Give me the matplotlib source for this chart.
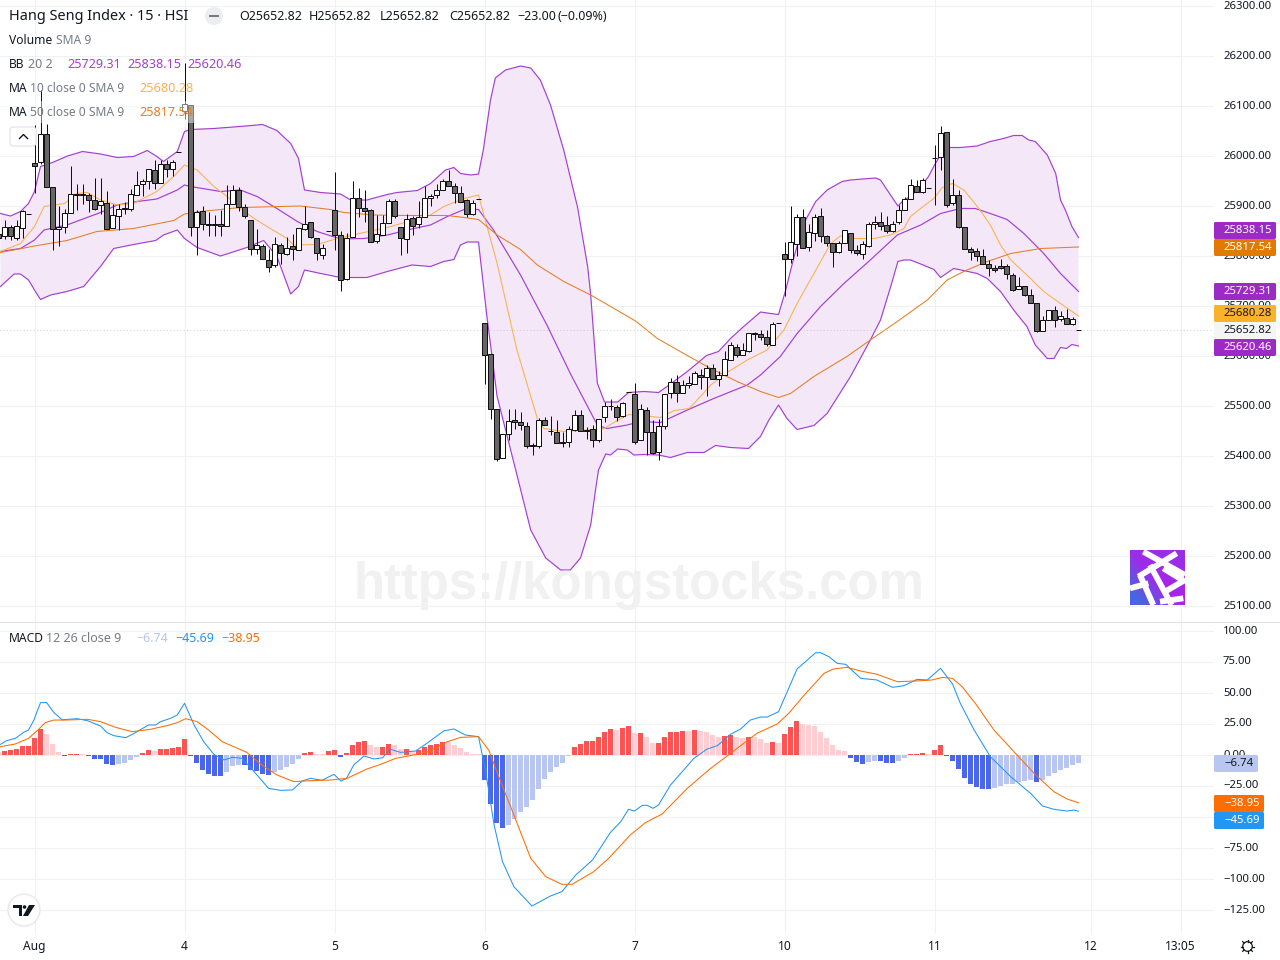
import numpy as np
import matplotlib
matplotlib.use("Agg")
import matplotlib.pyplot as plt
from matplotlib.patches import Circle, FancyBboxPatch, Rectangle
from matplotlib.transforms import ScaledTranslation

plt.rcParams['font.family'] = ['Noto Sans', 'DejaVu Sans']

# 15 min bars, bar 0 sits on the Aug tick
bar_index = np.arange(-6, 175)

opens = [25843,25839,25857,25835,25855,25882,
    25985,25987,26043,25937,25853,25857,25885,25923,25921,25921,
    25911,25901,25905,25855,25879,25893,25893,25921,25943,25949,
    25971,25945,25983,25973,26007,26089,26101,25857,25889,25863,
    25863,25863,25859,25903,25931,25897,25871,25813,25819,25791,
    25781,25821,25803,25819,25811,25853,25867,25835,25801,25849,
    25890,25841,25753,25837,25915,25895,25891,25829,25841,25865,
    25909,25857,25833,25875,25863,25877,25915,25921,25931,25949,
    25939,25925,25911,25883,25913,25665,25603,25493,25395,25443,
    25471,25467,25459,25421,25419,25471,25449,25447,25427,25427,
    25451,25481,25451,25453,25431,25477,25499,25497,25479,25527,
    25523,25431,25491,25447,25407,25459,25525,25547,25525,25541,
    25543,25561,25557,25575,25553,25561,25591,25617,25601,25609,
    25645,25643,25637,25621,25665,25803,25793,25823,25877,25817,
    25845,25879,25839,25825,25807,25825,25845,25811,25803,25819,
    25863,25867,25861,25849,25867,25891,25913,25939,25927,25935,
    25995,25997,26047,25905,25921,25857,25813,25809,25799,25783,
    25775,25778,25779,25761,25733,25739,25721,25705,25649,25671,
    25691,25673,25675,25663,25650.2]
highs = [25846,25870,25860,25870,25891,25882,
    26060,26130,26062,25937,25898,25893,25978,25942,25943,25925,
    25955,25955,25929,25903,25902,25907,25933,25968,25953,25973,
    25990,25991,25991,25991,26007,26185,26101,25890,25898,25887,
    25880,25890,25940,25940,25937,25902,25871,25853,25823,25813,
    25837,25825,25837,25843,25855,25899,25867,25835,25823,25849,
    25966,25848,25845,25948,25935,25930,25893,25880,25880,25913,
    25913,25857,25883,25879,25908,25938,25923,25942,25953,25971,
    25945,25939,25913,25911,25913,25665,25603,25493,25443,25492,
    25493,25486,25466,25425,25475,25477,25478,25471,25447,25458,
    25490,25491,25457,25460,25473,25507,25513,25500,25507,25527,
    25545,25503,25497,25471,25473,25523,25554,25561,25551,25558,
    25569,25573,25580,25583,25569,25609,25627,25623,25625,25645,
    25647,25650,25651,25667,25665,25826,25898,25883,25893,25863,
    25883,25895,25841,25825,25828,25851,25845,25821,25829,25867,
    25879,25887,25879,25869,25901,25917,25953,25951,25955,25935,
    26020,26058,26047,25953,25931,25857,25817,25815,25813,25790,
    25780,25793,25782,25765,25757,25739,25733,25705,25678,25691,
    25699,25688,25693,25677,25650.2]
lows = [25830,25833,25831,25831,25835,25882,
    25925,25983,25937,25811,25818,25845,25885,25890,25903,25887,
    25891,25883,25853,25855,25850,25882,25889,25921,25919,25933,
    25933,25945,25957,25959,26007,26073,25839,25801,25850,25839,
    25839,25839,25859,25903,25889,25875,25800,25802,25793,25767,
    25777,25783,25800,25790,25811,25850,25835,25791,25793,25849,
    25811,25729,25751,25837,25877,25867,25827,25825,25841,25865,
    25875,25800,25805,25840,25855,25877,25898,25915,25931,25939,
    25905,25907,25877,25880,25913,25543,25473,25389,25395,25431,
    25453,25451,25415,25401,25415,25461,25441,25425,25417,25417,
    25449,25449,25432,25417,25427,25467,25490,25469,25477,25527,
    25423,25431,25400,25403,25391,25453,25514,25507,25525,25534,
    25543,25533,25518,25553,25538,25561,25591,25597,25601,25607,
    25630,25631,25619,25621,25665,25718,25785,25799,25815,25809,
    25828,25827,25819,25777,25805,25825,25805,25801,25793,25817,
    25852,25851,25845,25847,25862,25891,25913,25927,25925,25935,
    25900,25971,25897,25901,25855,25813,25791,25789,25783,25759,
    25767,25773,25753,25729,25733,25718,25705,25647,25649,25670,
    25657,25668,25663,25661,25650.2]
closes = [25835,25857,25839,25859,25888,25882,
    25979,26043,25937,25853,25857,25885,25923,25921,25923,25911,
    25893,25909,25853,25881,25893,25895,25922,25941,25949,25973,
    25945,25982,25973,25987,26007,26103,25857,25887,25862,25861,
    25861,25859,25903,25930,25897,25879,25813,25821,25793,25777,
    25823,25805,25815,25813,25855,25863,25837,25805,25815,25849,
    25841,25751,25835,25915,25895,25889,25827,25843,25865,25909,
    25879,25835,25873,25859,25877,25915,25919,25931,25949,25939,
    25925,25907,25883,25905,25913,25601,25493,25393,25442,25469,
    25467,25461,25419,25419,25471,25461,25448,25425,25425,25453,
    25481,25449,25449,25431,25473,25499,25498,25477,25505,25527,
    25427,25493,25447,25405,25459,25523,25547,25525,25541,25545,
    25565,25557,25575,25553,25561,25593,25621,25601,25611,25645,
    25643,25637,25623,25663,25665,25793,25827,25877,25815,25847,
    25877,25839,25825,25807,25825,25851,25811,25805,25823,25863,
    25867,25859,25849,25863,25891,25913,25941,25927,25951,25935,
    25995,26045,25900,25921,25857,25813,25807,25799,25783,25775,
    25771,25775,25763,25731,25739,25721,25705,25649,25671,25691,
    25671,25679,25663,25673,25650.2]

upper_k = [-5.67,-4,-2.33,-1,0,1,3,5.5,8,11,13.8,16.5,18.8,20.4,21.5,23.8,25,26,29.9,35.2,38,40.4,42.7,44,45,47.7,51,52.7,55.4,58.8,60.4,63.8,66,68.5,69.9,71,72.7,74,74.8,76,76.8,78.5,81,82.7,84.3,86,88.2,90.5,92.2,92.7,93.8,95,97.2,99,101.6,104,106,108.8,112,114,116,118.2,121,122.7,124,125.2,126.6,128.2,130.2,132.1,134.6,136,138,140.2,141,143.9,144.9,146,147.7,149,150,151,151.8,154.3,157.1,159.3,161.5,163.2,164.6,165.7,166.8,168.8,170.2,171,171.8,172.9,174]
upper = [25883,25878,25887,25903,25927,25977,25985,25998,26007,26002,25995,25997,26009,25997,25987,26007,26047,26051,26053,26058,26061,26049,26023,25993,25930,25925,25922,25910,25910,25921,25925,25929,25943,25970,25975,25963,25960,25962,26010,26110,26154,26170,26178,26174,26150,26100,26010,25896,25776,25720,25544,25506,25506,25525,25527,25525,25542,25567,25599,25607,25633,25657,25686,25683,25681,25730,25797,25863,25907,25930,25947,25950,25952,25954,25950,25898,25910,25917,25937,25957,25980,26000,26015,26015,26018,26027,26033,26039,26039,26030,26027,26000,25963,25910,25890,25857,25835]

lower_k = [-5.67,-3.4,-2.33,-1,0,1,2.7,5.4,8.2,11,13.2,16.5,20.2,21.5,23.8,25,27.1,31,35.4,38.2,40.4,42.7,44,45,47.7,51,55.4,58.8,62.9,66,68.2,69.9,71,72.1,74,75.4,77.1,80.2,82.7,85.2,87.7,89.3,91,92.7,93.5,94,95.2,96,97.2,98.8,99.9,101.6,104,106,108.8,111.6,113.5,116,119,121,122.4,124,125.4,127.1,129.9,132.1,136,139.3,141,142.7,143.9,144.9,146,147.7,149.9,151,153.2,155.2,157.1,158.8,161,163.2,165.4,166.8,168.8,169.9,171,172,172.9,174]
lower = [25737,25762,25762,25750,25730,25711,25720,25727,25737,25777,25813,25821,25829,25840,25850,25833,25815,25798,25815,25829,25797,25722,25737,25770,25763,25755,25755,25767,25780,25777,25787,25791,25820,25826,25826,25677,25517,25370,25250,25194,25170,25170,25194,25260,25330,25370,25402,25400,25412,25410,25400,25401,25400,25395,25405,25405,25419,25415,25413,25437,25470,25500,25473,25451,25459,25483,25557,25630,25670,25737,25787,25790,25790,25782,25771,25755,25773,25768,25763,25753,25727,25690,25657,25620,25593,25593,25615,25613,25621,25618]

basis_k = [-5.67,-2.33,0,1.6,5.4,11,13.8,17.1,20.4,23.8,25,26,31,34.3,37.1,40.4,43.8,47.1,51,54.9,58.8,63.2,66,68.8,71.6,74,76.5,81,85.4,89.3,93.8,95.4,98.8,101,104.3,108.8,113.2,118.8,121,124.3,127.1,131,134.9,139.3,143.8,147.7,151,154.3,156.8,159.3,162.1,164.9,168.2,171,174]
basis = [25807,25813,25830,25850,25860,25885,25900,25907,25912,25930,25940,25937,25927,25930,25917,25893,25867,25847,25832,25833,25840,25853,25860,25877,25891,25891,25850,25760,25660,25563,25460,25453,25460,25467,25465,25490,25513,25540,25560,25597,25643,25697,25743,25790,25840,25860,25883,25893,25893,25883,25871,25843,25803,25763,25727]

ma10_k = [-5.67,-2.33,0,1.6,5,7.1,8.8,11,13.8,16.5,20.4,23.2,25,27.1,29.9,32.1,34.3,36.6,39.3,42.1,43.2,47.1,49.9,54.9,58.8,63.2,66,68.2,71.6,74,77.1,80.4,83.8,84.9,88.2,92.1,94.9,97.7,99,100.2,104.3,106.6,109.1,111,112.7,115.4,118.8,122.1,124.9,127.1,129.9,132.7,134.3,136.6,139.9,142.7,144.9,146,148.2,149.9,151.3,153,154.9,157.4,159.3,161,162.7,165.4,168.2,171,174]
ma10 = [25807,25823,25857,25897,25903,25923,25925,25910,25900,25903,25927,25957,25980,25970,25937,25917,25893,25873,25853,25833,25820,25821,25831,25845,25855,25870,25880,25897,25913,25920,25783,25610,25473,25453,25447,25450,25453,25473,25481,25480,25475,25489,25493,25517,25540,25565,25590,25610,25650,25703,25763,25823,25838,25833,25833,25840,25853,25877,25898,25913,25935,25943,25930,25893,25860,25820,25790,25760,25727,25703,25678]

ma50_k = [-5.67,0,5.4,10.4,16.5,23.2,25,27.7,34.3,44.3,49.3,51.6,56.6,62.1,68.8,71.6,74,77.1,81,83.8,88.2,92.7,96.6,100.3,103.8,108.2,112.7,117.1,121,124,126,129.9,135.4,139.3,143.8,148.8,152.1,155.2,158.8,162.7,167.7,174]
ma50 = [25805,25818,25829,25847,25853,25869,25882,25887,25895,25898,25891,25885,25880,25879,25879,25875,25871,25840,25811,25780,25747,25720,25693,25667,25633,25603,25573,25547,25527,25515,25523,25557,25597,25630,25667,25710,25750,25769,25787,25803,25813,25816]

# prices above were read a little low against the grid
read_offset = 2.6

hist = [2,2.8,3.6,4.4,6.8,6.9,13.3,20.6,16.5,8.5,2,-1.2,.3,.4,.3,-1.2,-3.5,-3.6,-7.7,-8.5,-7.7,-6.9,-4.4,-2,1.2,3.6,2.8,4.3,4.4,5.2,6,12.5,-1.2,-6.9,-12.5,-15.7,-17.2,-17.3,-14.1,-9.3,-8.4,-8.5,-12.5,-13.3,-15.7,-16.5,-14.1,-12.5,-10.1,-7.7,-3.6,1.2,2,.5,.4,2.8,3.6,-2,1.2,7.7,10.1,10.9,7.7,5.9,6,8.5,7.7,4.3,4.4,2.8,3.6,6,7.7,8.5,10.2,10.1,7.7,5.2,2,.5,.4,
    -20.6,-39.9,-55.2,-59.3,-56.9,-52,-46.4,-42.3,-36.7,-27.8,-19.8,-14.1,-10.1,-6.9,-1.2,6,8.5,10.8,10.9,14.1,18.1,20.6,19.8,21.4,23,17.2,17.3,14.1,9.2,9.3,14.1,18,18.1,19.1,19,19.8,19,18.1,15.7,14.1,14.9,15.7,14.1,13.3,14.1,14,12.5,9.3,10.1,9.3,16.5,22.2,27,24.6,23.8,23,18.1,13.3,7.7,3.6,2.8,-2.8,-6,-7.7,-6,-5.1,-5.2,-6.8,-6.9,-5.2,-2.8,.3,.4,1.2,.4,3.6,7.7,-1.2,-5.2,-11.7,-19,-23.8,-26.2,-27.7,-27.8,-27,-25.4,-23.9,-23.8,-22.2,-21.4,-20.6,-22.2,-20.6,-17.3,-14.9,-12.5,-10.9,-8.5,-6.74]

macd_k = [-5.67,-4.6,-3.2,-1.8,-1,-.1,1,2,3.2,4.6,7.1,8.8,11,12.1,13.2,15.2,16.6,19,20.2,21,22.7,23.8,25,26.6,28.2,29.9,31.6,33,34.6,36.6,39,41,43,44.6,46,47.9,49.9,51.1,52,53.2,54.9,56.6,58,59.3,61,63.5,65.4,68.2,69.9,71.8,74,75.2,76.6,78,79.9,82.9,86,87.9,90.2,93,96,97.7,99,100,101.3,102.1,103.1,104,106,109.9,112.1,113.8,116,117.7,119.3,121,122.1,124,127.1,128.8,130.2,131,132.4,133.8,135.2,137.7,140.4,143,144.9,147.1,148.8,151,153,154.3,156.6,159.3,162.7,166,168,169.9,172.1,173.2,174]
macd = [8.2,11.2,13,17.9,19.8,27.8,41.8,42,34,28,28.9,27.3,23,17.6,15.2,13.6,17,23.8,23.8,26.5,29.2,31.9,41.3,23.8,10.3,.1,-4.4,-2.3,-3.1,-13.8,-27.3,-28.9,-28.6,-21.4,-19.2,-20.8,-16,-21.4,-19.2,-8.5,-1.2,-3.6,-2.6,4.2,1.7,2.8,9,19,20.6,15.7,14.4,-13.8,-56.9,-86.4,-106.6,-122.2,-114.1,-110.6,-97.2,-85.1,-62.8,-54.2,-44.2,-45.6,-41,-41,-43.4,-40.7,-24.6,-3.1,4.4,7.1,16.3,20.6,27.8,30.2,30.2,34.5,69,76.2,82.1,82.1,78.9,73.5,72.7,61.4,60.1,54.2,55.5,60.6,60.1,69.5,56.9,41.3,19.8,-1.7,-17.9,-31.3,-41.5,-44.2,-45.6,-44.8,-45.69]

signal_k = [-5.67,-3.2,-1,.4,1.8,3.2,5.4,8.8,11,13.5,16.3,19.3,22.1,23.8,25.2,27.1,29,31.3,33.2,35.4,37.7,40.4,43.2,46,49.3,52.1,55.4,57.7,60.2,63.2,65.7,68.8,71,74,75.7,77.7,79.9,82.7,85.2,87.9,89.6,93.2,95.7,99.3,101.8,104.6,108.8,112.7,116,120.4,123.8,125.7,128.2,131.6,133.2,135.4,137.7,140.4,143.8,147.7,149.6,151.3,153,154.6,156.8,159.9,163.5,166.6,169.9,172.1,174]
signal = [6.3,8.5,13,19,25.7,27.8,27.8,28.4,26.5,21.9,18.4,20.3,23.3,25.7,28.9,26.5,19.8,10.3,6.3,1.7,-7.7,-16.5,-21.9,-21.1,-20.6,-19.2,-11.7,-7.9,-3.1,-.4,2.3,10.3,13.8,14.4,3.6,-21.9,-48.8,-83.7,-98.5,-104.7,-104.7,-94.5,-83.7,-64.9,-55,-48,-27.3,-11.2,.9,17.1,24.6,33.2,47.4,65.5,69,70.3,67.3,64.7,58.7,59.5,60.1,62.2,61.4,54.7,41.3,19.8,.9,-15.2,-30,-35.9,-38.95]

day_ticks = [0, 25, 50, 75, 100, 125, 150, 176, 191]
day_labels = ['Aug', '4', '5', '6', '7', '10', '11', '12', '13:05']
price_ticks = np.arange(25100, 26301, 100)
macd_ticks = np.arange(-125, 101, 25)

W, H = 1280, 960
GRID = '#f0f1f5'
TXT = '#131722'
GREY = '#787b86'
BB_COL = '#a33fd3'
MA10_COL = '#f9b24a'
MA50_COL = '#e67e22'
X_LIM = (-5.75, 196.58)


def fig_rect(x0, y0, x1, y1):
    return [x0 / W, 1 - y1 / H, (x1 - x0) / W, (y1 - y0) / H]


def style_pane(ax, ticks, fmt_y):
    for s in ax.spines.values():
        s.set_visible(False)
    ax.yaxis.tick_right()
    ax.set_yticks(ticks)
    ax.set_yticklabels([fmt_y(v) for v in ticks])
    ax.set_xticks(day_ticks)
    ax.grid(True, color=GRID, lw=0.8)
    ax.set_axisbelow(True)
    ax.tick_params(length=0, labelsize=8.15, labelcolor=TXT, pad=6.5, axis='y')
    ax.tick_params(length=0, axis='x', labelbottom=False)
    up_1px = ScaledTranslation(0, 1 / 100, fig.dpi_scale_trans)
    for lab in ax.get_yticklabels():
        lab.set_ha('left')
        lab.set_transform(lab.get_transform() + up_1px)


fig = plt.figure(figsize=(W / 100, H / 100), dpi=100, facecolor='white')

# price pane
ax = fig.add_axes(fig_rect(0, 0, 1214, 621))
ax.set_xlim(*X_LIM)
ax.set_ylim(26312.6 - 2 * 621, 26312.6)
style_pane(ax, price_ticks, lambda v: f"{v:.2f}")

up_k, up_v = np.array(upper_k), np.array(upper) + read_offset
lo_k, lo_v = np.array(lower_k), np.array(lower) + read_offset
ax.fill(np.r_[up_k, lo_k[::-1]], np.r_[up_v, lo_v[::-1]], color='#f3e7f8', lw=0, zorder=1)
ax.plot(up_k, up_v, color=BB_COL, lw=0.85, zorder=2)
ax.plot(lo_k, lo_v, color=BB_COL, lw=0.85, zorder=2)
ax.plot(basis_k, np.array(basis) + read_offset, color=BB_COL, lw=0.85, zorder=2)
ax.plot(ma10_k, np.array(ma10) + read_offset, color=MA10_COL, lw=0.75, zorder=2)
ax.plot(ma50_k, np.array(ma50) + read_offset, color=MA50_COL, lw=0.75, zorder=2)

o = np.array(opens) + read_offset
h = np.array(highs) + read_offset
l = np.array(lows) + read_offset
c = np.array(closes) + read_offset
body_col = ['#ffffff' if cl >= op else '#666666' for op, cl in zip(o, c)]
ax.axhline(c[-1], color='#b8bcc8', lw=0.6, ls=(0, (1, 3)), zorder=2.5)
ax.vlines(bar_index, l, h, color='#111111', lw=0.72, zorder=3)
ax.bar(bar_index, np.abs(c - o), bottom=np.minimum(o, c), width=0.7,
       color=body_col, edgecolor='#111111', lw=0.72, zorder=4)

# macd pane
ax2 = fig.add_axes(fig_rect(0, 622, 1214, 933))
ax2.set_xlim(*X_LIM)
ax2.set_ylim((754.5 - 933) / 1.24, (754.5 - 622) / 1.24)
style_pane(ax2, macd_ticks, lambda v: f"{v:.2f}".replace('-', '\u2212'))
ax2.tick_params(axis='x', labelbottom=True, labelsize=8.6, labelcolor=TXT, pad=5)
ax2.set_xticklabels(day_labels)
ax2.get_xticklabels()[0].set_fontweight('bold')

hist_col = []
prev = hist[0]
for v in hist:
    if v >= 0:
        hist_col.append('#ff5252' if v > prev else '#ffcdd2')
    else:
        hist_col.append('#b9c6f2' if v > prev else '#4a66ea')
    prev = v
ax2.bar(bar_index, hist, width=0.8, color=hist_col, lw=0, zorder=2)
ax2.plot(macd_k, macd, color='#2196f3', lw=0.75, zorder=3)
ax2.plot(signal_k, signal, color='#ff6d00', lw=0.75, zorder=3)

# everything that sits on top, in pixel coordinates
ov = fig.add_axes([0, 0, 1, 1], facecolor='none')
ov.axis('off')

# watermark
ov.text(639, 585, 'https://kongstocks.com', family='Liberation Sans', weight='bold',
        fontsize=36.6, color='#f1f1f1', ha='center', va='center', zorder=1)

# square logo
yy, xx = np.mgrid[0:1:64j, 0:1:64j]
mix = np.clip(np.abs(xx - yy) * 0.6 + (1 - xx) * 0.55 + (yy - 0.5) * 0.4 - 0.1, 0, 1)
logo = np.dstack([0.72 - 0.44 * mix, 0.10 + 0.30 * mix, 0.92 - 0.04 * mix])
im = ov.imshow(logo, extent=(1130, 1185, 605, 550), aspect='auto', zorder=2)
clip = Rectangle((1130, 550), 55, 55, transform=ov.transData)
for (z0, z1, z2, z3) in [(130, 65, 255, 135), (115, 140, 230, 70), (90, 175, 145, 160),
                         (150, 105, 215, 225), (120, 135, 160, 225), (190, 115, 255, 155),
                         (195, 185, 255, 150), (180, 215, 250, 205)]:
    ln, = ov.plot([1100 + z0 / 3, 1100 + z2 / 3], [530 + z1 / 3, 530 + z3 / 3],
                  color='white', lw=4.2, solid_capstyle='butt', zorder=3)
    ln.set_clip_path(clip)
ov.set_xlim(0, W)
ov.set_ylim(H, 0)

# legend veil over the candles on the last row
ov.add_patch(Rectangle((0, 101), 196, 22, fc='white', alpha=0.45, lw=0, zorder=4))


def t(x, y, s, color=TXT, size=8.7, **kw):
    ov.text(x, y + 1, s, color=color, fontsize=size, ha='left', va='center', zorder=6, **kw)


t(9, 16, 'Hang Seng Index \u00b7 15 \u00b7 HSI', size=10.45)
ov.add_patch(Circle((214, 16), 9, fc='#eceef2', lw=0, zorder=5))
ov.add_patch(Rectangle((209, 14.8), 10, 2.4, fc='#787b86', lw=0, zorder=6))
t(239, 16, 'O25652.82', size=9)
t(309, 16, 'H25652.82', size=9)
t(380, 16, 'L25652.82', size=9)
t(449, 16, 'C25652.82', size=9)
t(517, 16, '\u221223.00', size=9)
t(558, 16, '(\u22120.09%)', size=9)
t(9, 40, 'Volume')
t(56, 40, 'SMA 9', GREY)
t(9, 64, 'BB')
t(28, 64, '20 2', GREY, size=9)
t(67, 64, '25729.31', BB_COL, size=9.1)
t(127, 64, '25838.15', BB_COL, size=9.1)
t(187, 64, '25620.46', BB_COL, size=9.1)
t(9, 88, 'MA')
t(30, 88, '10 close 0 SMA 9', GREY)
t(139, 88, '25680.28', MA10_COL, size=9.1)
t(9, 112, 'MA')
t(30, 112, '50 close 0 SMA 9', GREY)
t(139, 112, '25817.54', MA50_COL, size=9.1)
t(9, 638, 'MACD')
t(46, 638, '12 26 close 9', GREY, size=9)
t(136, 638, '\u22126.74', '#b9c6f2', size=9)
t(175, 638, '\u221245.69', '#2196f3', size=9)
t(221, 638, '\u221238.95', '#ff6d00', size=9)

# collapse button
ov.add_patch(FancyBboxPatch((10, 127), 26, 19, boxstyle='round,pad=0,rounding_size=3',
                            fc='white', ec='#dfe1e8', lw=0.8, zorder=5))
ov.plot([19.5, 23.5, 27.5], [138.5, 134.5, 138.5], color=TXT, lw=1, zorder=6)


def tag(y, x1, s, fc, tc):
    ov.add_patch(FancyBboxPatch((1214, y - 8.5), x1 - 1214, 17,
                                boxstyle='round,pad=0,rounding_size=1.5',
                                fc=fc, ec='none', zorder=5))
    ov.text(1224, y, s, color=tc, fontsize=8.15, ha='left', va='center', zorder=6)


tag(230.5, 1276, '25838.15', '#9c2bc5', 'white')
tag(247.5, 1276, '25817.54', '#e27a00', 'white')
tag(291.5, 1276, '25729.31', '#9c2bc5', 'white')
tag(313.5, 1276, '25680.28', '#f9b32b', TXT)
tag(330.5, 1276, '25652.82', '#f5f5f5', TXT)
tag(347.5, 1276, '25620.46', '#9c2bc5', 'white')
tag(763.5, 1258, '\u22126.74', '#b9c6f2', TXT)
tag(803.5, 1264, '\u221238.95', '#ff6d00', 'white')
tag(820.5, 1264, '\u221245.69', '#2196f3', 'white')

# separator between the panes
ov.plot([0, W], [621.5, 621.5], color='#e0e3eb', lw=0.8, zorder=5)

# TradingView badge
ov.add_patch(Circle((24, 910), 16, fc='white', ec='#e6e8ee', lw=1, zorder=5))
ov.fill([13, 22, 22, 19, 19, 13], [905, 905, 916, 916, 908, 908], color=TXT, lw=0, zorder=6)
ov.add_patch(Circle((24.5, 907), 1.8, fc=TXT, lw=0, zorder=6))
ov.fill([29, 35, 28, 23], [905, 905, 916, 916], color=TXT, lw=0, zorder=6)

# gear
ov.add_patch(Circle((1247.5, 946.5), 4.8, fc='white', ec=TXT, lw=0.9, zorder=6))
for a in np.arange(0, 360, 45):
    ca, sa = np.cos(np.radians(a)), np.sin(np.radians(a))
    ov.plot([1247.5 + 4.8 * ca, 1247.5 + 6.8 * ca], [946.5 + 4.8 * sa, 946.5 + 6.8 * sa],
            color=TXT, lw=0.9, zorder=6)

fig.savefig('out.png', dpi=100, facecolor='white')
